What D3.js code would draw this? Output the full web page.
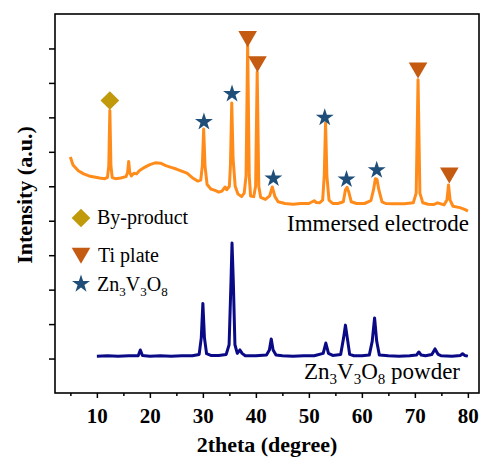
<!DOCTYPE html>
<html>
<head>
<meta charset="utf-8">
<script src="https://cdn.jsdelivr.net/npm/d3@7"></script>
<style>
  body { margin: 0; background: #fff; }
  svg { display: block; font-family: "Liberation Serif", "Times New Roman", serif; }
</style>
</head>
<body>
<div id="chart"></div>
<script>
// immersed electrode pattern: [2theta, intensity]
const immersed = [
  [5.0, 6.85], [5.5, 6.62], [6.5, 6.45], [7.5, 6.36], [8.5, 6.30], [9.5, 6.27], [10.5, 6.24],
  [11.5, 6.22], [12.0, 6.26], [12.25, 6.6], [12.45, 8.2], [12.65, 6.6], [12.9, 6.25], [13.5, 6.22],
  [14.5, 6.24], [15.5, 6.28], [15.8, 6.4], [16.0, 6.72], [16.2, 6.4], [16.5, 6.3], [17, 6.38],
  [17.5, 6.36], [18, 6.45], [19, 6.55], [20, 6.63], [21, 6.68], [22, 6.67], [23, 6.6], [24, 6.55],
  [25, 6.5], [26, 6.44], [27, 6.38], [28, 6.25], [29, 6.15], [29.6, 6.18], [29.9, 6.6], [30.15, 7.66],
  [30.4, 6.6], [30.8, 6.05], [31.5, 5.92], [32.3, 5.88], [33.0, 5.83], [33.6, 5.86], [34.2, 5.98],
  [34.5, 5.9], [35.0, 6.0], [35.2, 6.6], [35.45, 8.42], [35.7, 6.8], [36.1, 6.0], [36.6, 5.78],
  [37.3, 5.7], [37.8, 5.8], [38.15, 6.3], [38.45, 10.1], [38.75, 6.3], [39.0, 5.72], [39.6, 5.7],
  [39.95, 6.0], [40.25, 9.32], [40.55, 6.0], [40.9, 5.68], [41.8, 5.62], [42.6, 5.72], [43.1, 5.98],
  [43.6, 5.7], [44.2, 5.55], [45.5, 5.5], [47, 5.48], [48.5, 5.5], [50, 5.5], [51.0, 5.58],
  [51.4, 5.53], [52, 5.52], [52.6, 5.6], [52.9, 6.3], [53.15, 7.84], [53.4, 6.3], [53.8, 5.6],
  [54.5, 5.5], [55.5, 5.5], [56.5, 5.55], [56.9, 5.9], [57.2, 5.97], [57.5, 5.85], [58.0, 5.55],
  [59, 5.5], [60.5, 5.5], [61.7, 5.58], [62.2, 5.9], [62.55, 6.22], [62.85, 6.2], [63.2, 5.9],
  [63.8, 5.55], [64.5, 5.5], [66, 5.49], [68, 5.49], [69.7, 5.52], [70.25, 5.8], [70.6, 9.09],
  [70.95, 5.8], [71.5, 5.52], [72.5, 5.48], [73.5, 5.47], [74.3, 5.52], [75.5, 5.46], [76.05, 5.6],
  [76.35, 6.04], [76.65, 5.6], [77.2, 5.42], [78.5, 5.38], [79.5, 5.32], [80.0, 5.28]
];

// Zn3V3O8 powder pattern
const powder = [
  [10, 1.07], [12, 1.08], [14, 1.07], [16, 1.08], [17.8, 1.08], [18.2, 1.25], [18.6, 1.09],
  [20, 1.07], [22, 1.08], [24, 1.07], [26, 1.08], [28, 1.08], [29.3, 1.12], [29.7, 1.6],
  [30.0, 2.6], [30.3, 1.6], [30.7, 1.14], [31.5, 1.09], [33, 1.09], [34.4, 1.12], [34.95, 1.4],
  [35.3, 3.2], [35.5, 4.35], [35.75, 3.2], [36.05, 1.4], [36.5, 1.15], [37.0, 1.25], [37.4, 1.15],
  [38, 1.08], [40, 1.08], [42, 1.1], [42.55, 1.25], [42.9, 1.57], [43.25, 1.25], [43.8, 1.1],
  [45, 1.08], [47, 1.07], [49, 1.08], [51, 1.08], [52.7, 1.15], [53.2, 1.45], [53.7, 1.15],
  [54.5, 1.09], [56.0, 1.12], [56.55, 1.6], [56.9, 1.97], [57.25, 1.6], [57.7, 1.12], [58.5, 1.08],
  [60, 1.08], [61.4, 1.1], [61.95, 1.5], [62.4, 2.18], [62.8, 1.5], [63.3, 1.1], [65, 1.08],
  [67, 1.07], [69, 1.08], [70.3, 1.1], [70.75, 1.19], [71.2, 1.1], [72, 1.08], [73.2, 1.12],
  [73.8, 1.28], [74.4, 1.12], [75, 1.08], [77, 1.07], [78.6, 1.09], [79, 1.14], [79.4, 1.09],
  [80, 1.07]
];

// phase markers [2theta, height]
const byProduct = [[12.45, 8.49]];
const tiPlate = [[38.45, 10.35], [40.3, 9.62], [70.6, 9.44], [76.5, 6.39]];
const znPhase = [[30.2, 7.87], [35.5, 8.68], [43.3, 6.23], [53.0, 7.99], [57.1, 6.2], [62.8, 6.47]];

const xTicks = [10, 20, 30, 40, 50, 60, 70, 80];
const xMinor = [5, 15, 25, 35, 45, 55, 65, 75];
const yTicks = [1, 2, 3, 4, 5, 6, 7, 8, 9, 10];

const W = 483, H = 466;
const margin = { top: 14, right: 4, bottom: 73, left: 55 };

const x = d3.scaleLinear().domain([2.1, 82.1]).range([margin.left, W - margin.right]);
const y = d3.scaleLinear().domain([0, 11]).range([H - margin.bottom, margin.top]);

const svg = d3.select('#chart').append('svg')
  .attr('width', W)
  .attr('height', H);

// curves
const line = d3.line()
  .x(d => x(d[0]))
  .y(d => y(d[1]));

svg.append('path')
  .datum(immersed)
  .attr('fill', 'none')
  .attr('stroke', '#ff8c1a')
  .attr('stroke-width', 3)
  .attr('stroke-linejoin', 'round')
  .attr('d', line);

svg.append('path')
  .datum(powder)
  .attr('fill', 'none')
  .attr('stroke', '#0a0a86')
  .attr('stroke-width', 3)
  .attr('stroke-linejoin', 'round')
  .attr('d', line);

// markers
const diamond = d3.symbol().type(d3.symbolSquare).size(175);
const tri = d3.symbol().type(d3.symbolTriangle).size(150);
const star = d3.symbol().type(d3.symbolStar).size(100);

const colDiamond = '#c09a0a', colTri = '#c55a11', colStar = '#1f4e79';

svg.selectAll('.dia').data(byProduct).enter().append('path')
  .attr('d', diamond)
  .attr('fill', colDiamond)
  .attr('transform', d => 'translate(' + x(d[0]) + ',' + y(d[1]) + ') rotate(45)');

svg.selectAll('.tri').data(tiPlate).enter().append('path')
  .attr('d', tri)
  .attr('fill', colTri)
  .attr('transform', d => 'translate(' + x(d[0]) + ',' + y(d[1]) + ') rotate(180)');

svg.selectAll('.star').data(znPhase).enter().append('path')
  .attr('d', star)
  .attr('fill', colStar)
  .attr('transform', d => 'translate(' + x(d[0]) + ',' + y(d[1]) + ')');

// axes
const xAxis = svg.append('g')
  .attr('transform', 'translate(0,' + y(0) + ')')
  .call(d3.axisBottom(x).tickValues(xTicks).tickSize(5).tickPadding(10));
svg.append('g')
  .attr('transform', 'translate(0,' + y(0) + ')')
  .call(d3.axisBottom(x).tickValues(xMinor).tickSize(3).tickFormat(''));
svg.append('g')
  .attr('transform', 'translate(' + x(2.1) + ',0)')
  .call(d3.axisLeft(y).tickValues(yTicks).tickSize(6).tickFormat(''));

svg.selectAll('.tick line').attr('stroke', '#000').attr('stroke-width', 1.5);
svg.selectAll('.domain').remove();

xAxis.selectAll('text')
  .attr('fill', '#000')
  .style('font-size', '21px')
  .style('font-weight', 'bold')
  .style('font-family', '"Liberation Serif", "Times New Roman", serif');

// frame
svg.append('rect')
  .attr('x', x(2.1))
  .attr('y', y(11))
  .attr('width', x(82.1) - x(2.1))
  .attr('height', y(0) - y(11))
  .attr('fill', 'none')
  .attr('stroke', '#000')
  .attr('stroke-width', 1.6);

// axis titles
svg.append('text')
  .attr('x', 267)
  .attr('y', 452)
  .attr('text-anchor', 'middle')
  .style('font-size', '22px')
  .style('font-weight', 'bold')
  .text('2theta (degree)');

svg.append('text')
  .attr('transform', 'translate(32,195) rotate(-90)')
  .attr('text-anchor', 'middle')
  .style('font-size', '22px')
  .style('font-weight', 'bold')
  .text('Intensity (a.u.)');

// curve labels
svg.append('text')
  .attr('x', 469)
  .attr('y', 231)
  .attr('text-anchor', 'end')
  .style('font-size', '23px')
  .text('Immersed electrode');

const pl = svg.append('text')
  .attr('x', 460)
  .attr('y', 379)
  .attr('text-anchor', 'end')
  .style('font-size', '23px');
pl.append('tspan').text('Zn');
pl.append('tspan').attr('dy', 5).style('font-size', '15px').text('3');
pl.append('tspan').attr('dy', -5).text('V');
pl.append('tspan').attr('dy', 5).style('font-size', '15px').text('3');
pl.append('tspan').attr('dy', -5).text('O');
pl.append('tspan').attr('dy', 5).style('font-size', '15px').text('8');
pl.append('tspan').attr('dy', -5).text(' powder');

// legend
const legend = [
  { sym: diamond, col: colDiamond, rot: 45, cy: 218 },
  { sym: tri, col: colTri, rot: 180, cy: 253 },
  { sym: star, col: colStar, rot: 0, cy: 284 }
];
legend.forEach(d => {
  svg.append('path')
    .attr('d', d.sym)
    .attr('fill', d.col)
    .attr('transform', 'translate(81,' + d.cy + ') rotate(' + d.rot + ')');
});
svg.append('text').attr('x', 97).attr('y', 224).style('font-size', '20px').text('By-product');
svg.append('text').attr('x', 98).attr('y', 262).style('font-size', '20px').text('Ti plate');
const zl = svg.append('text').attr('x', 97).attr('y', 291).style('font-size', '20px');
zl.append('tspan').text('Zn');
zl.append('tspan').attr('dy', 5).style('font-size', '13px').text('3');
zl.append('tspan').attr('dy', -5).text('V');
zl.append('tspan').attr('dy', 5).style('font-size', '13px').text('3');
zl.append('tspan').attr('dy', -5).text('O');
zl.append('tspan').attr('dy', 5).style('font-size', '13px').text('8');
</script>
</body>
</html>
